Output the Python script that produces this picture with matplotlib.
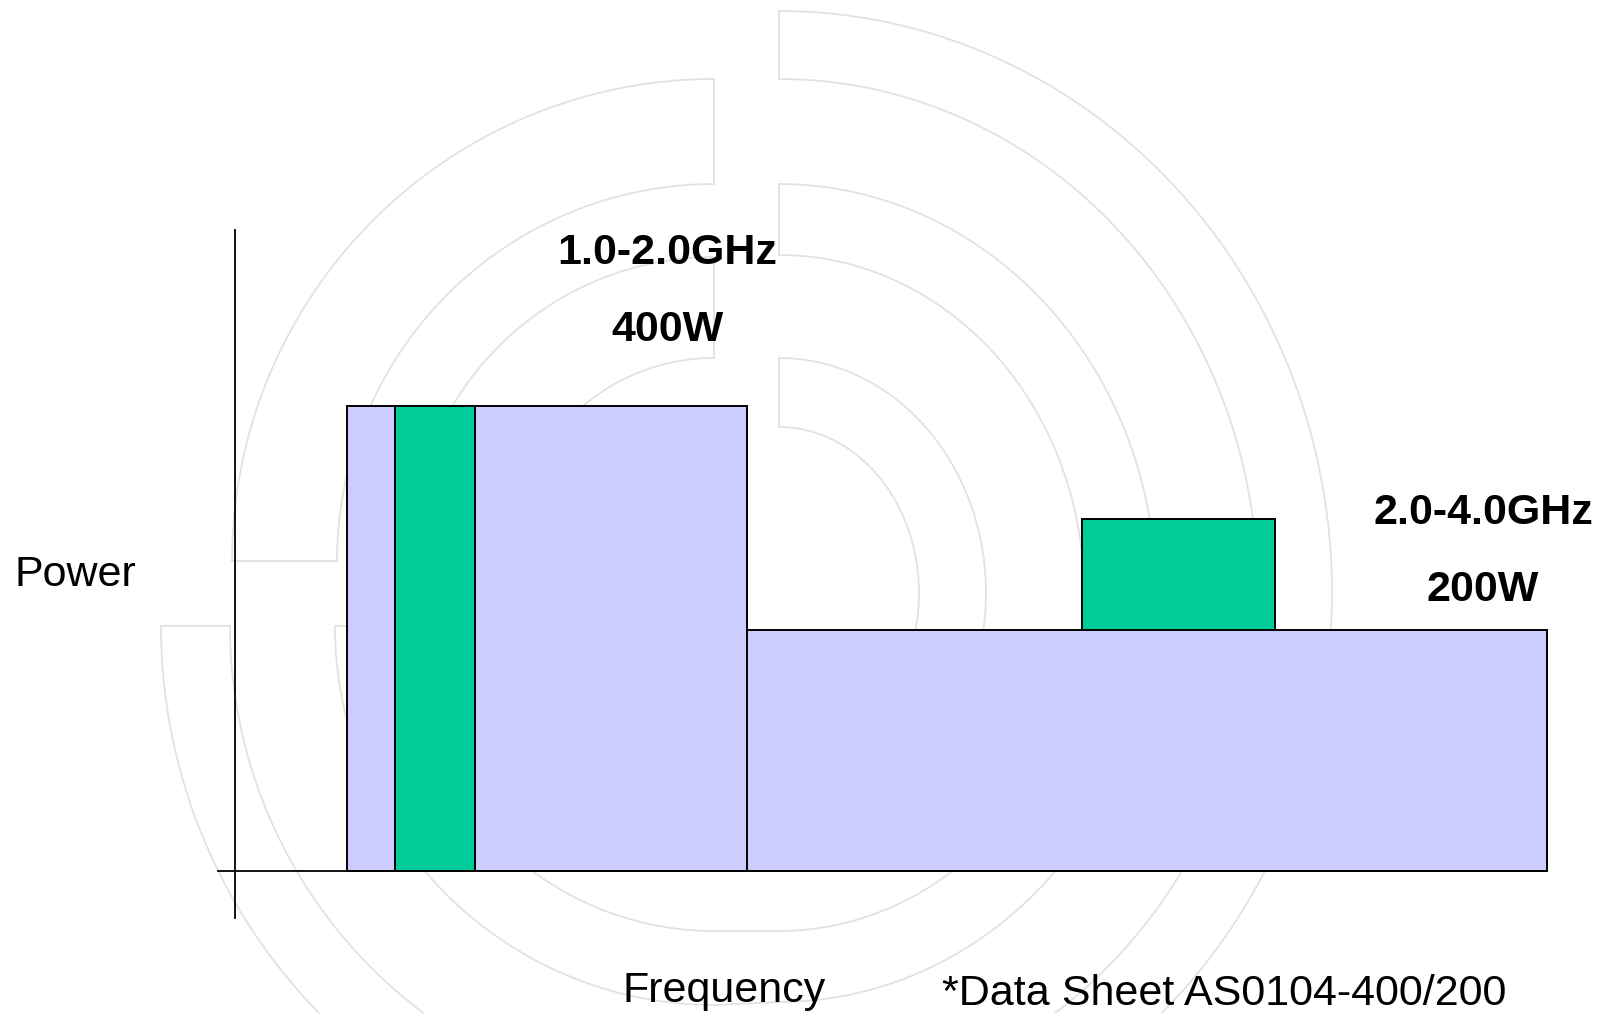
import numpy as np
import matplotlib
matplotlib.use("Agg")
import matplotlib.pyplot as plt

plt.rcParams['font.family'] = ['Liberation Sans', 'DejaVu Sans']

# amplifier bands (GHz) and rated power (W)
band_labels = ["1.0-2.0GHz", "2.0-4.0GHz"]
power_labels = ["400W", "200W"]
band_start = [1.0, 2.0]
band_stop = [2.0, 4.0]
band_power = [400, 207]

# green blocks sitting on the bands
green_start = [1.12, 2.8375]
green_stop = [1.32, 3.32]
green_bottom = [0, 207]
green_top = [400, 303]

LAVENDER = '#CCCCFF'
GREEN = '#00CC99'
WM = '#E2E2E2'
FS = 31

W, H = 1604, 1013
fig = plt.figure(figsize=(W / 100, H / 100), dpi=100)

# background axes in pixel coords (y down) for the watermark and texts
bg = fig.add_axes([0, 0, 1, 1], zorder=0)
bg.set_xlim(0, W)
bg.set_ylim(H, 0)
bg.axis('off')


def arc(cx, cy, rx, ry, t0, t1):
    t = np.linspace(np.radians(t0), np.radians(t1), 200)
    bg.plot(cx + rx * np.cos(t), cy + ry * np.sin(t), color=WM, lw=1.3)


def seg(x0, y0, x1, y1):
    bg.plot([x0, x1], [y0, y1], color=WM, lw=1.3)


# right half of the logo
rcx, rcy = 779, 593
right_rings = [(553, 582), (479, 514), (377, 409), (305, 338), (207, 235), (140, 166)]
for rx, ry in right_rings:
    arc(rcx, rcy, rx, ry, -90, 90)
for i in range(0, 6, 2):
    seg(rcx, rcy - right_rings[i][1], rcx, rcy - right_rings[i + 1][1])

# upper left quarter
ucx, ucy = 714, 561
ul_rings = [482, 377, 304, 203]
for r in ul_rings:
    arc(ucx, ucy, r, r, 180, 270)
for i in range(0, 4, 2):
    seg(ucx, ucy - ul_rings[i], ucx, ucy - ul_rings[i + 1])
    seg(ucx - ul_rings[i], ucy, ucx - ul_rings[i + 1], ucy)

# lower left quarter
lcx, lcy = 714, 626
ll_rings = [553, 484, 379, 305, 203, 140]
for r in ll_rings:
    arc(lcx, lcy, r, r, 90, 180)
for i in range(0, 6, 2):
    seg(lcx - ll_rings[i], lcy, lcx - ll_rings[i + 1], lcy)
for r_l, (rx, ry) in zip(ll_rings, right_rings):
    seg(lcx, lcy + r_l, rcx, rcy + ry)

# chart axes: data coords, 1 GHz = 400 px, 1 W = 1.1625 px
ax = fig.add_axes([0, 0, 1, 1], zorder=1)
ax.patch.set_alpha(0)
x0_px, y0_px = 347, 871
px_ghz, px_w = 400, 1.1625
ax.set_xlim(1 - x0_px / px_ghz, 1 + (W - x0_px) / px_ghz)
ax.set_ylim(-(H - y0_px) / px_w, y0_px / px_w)
ax.axis('off')

for i in range(len(band_start)):
    ax.bar(band_start[i], band_power[i], width=band_stop[i] - band_start[i], align='edge',
           color=LAVENDER, edgecolor='black', linewidth=1.4)
    ax.bar(green_start[i], green_top[i] - green_bottom[i], bottom=green_bottom[i],
           width=green_stop[i] - green_start[i], align='edge',
           color=GREEN, edgecolor='black', linewidth=1.4)

# hand drawn axes
ax.plot([0.72, 0.72], [-40, 551], color='black', lw=1.3)
ax.plot([0.6775, 4.0], [0, 0], color='black', lw=1.3)

# labels
bg.text(667, 264, band_labels[0], fontsize=FS, fontweight='bold', ha='center', va='baseline')
bg.text(667, 341, power_labels[0], fontsize=FS, fontweight='bold', ha='center', va='baseline')
bg.text(1483, 524, band_labels[1], fontsize=FS, fontweight='bold', ha='center', va='baseline')
bg.text(1483, 601, power_labels[1], fontsize=FS, fontweight='bold', ha='center', va='baseline')
bg.text(14, 586, "Power", fontsize=FS, ha='left', va='baseline')
bg.text(622, 1002, "Frequency", fontsize=FS, ha='left', va='baseline')
bg.text(942, 1005, "*Data Sheet AS0104-400/200", fontsize=FS, ha='left', va='baseline')

fig.savefig('out.png', dpi=100)
